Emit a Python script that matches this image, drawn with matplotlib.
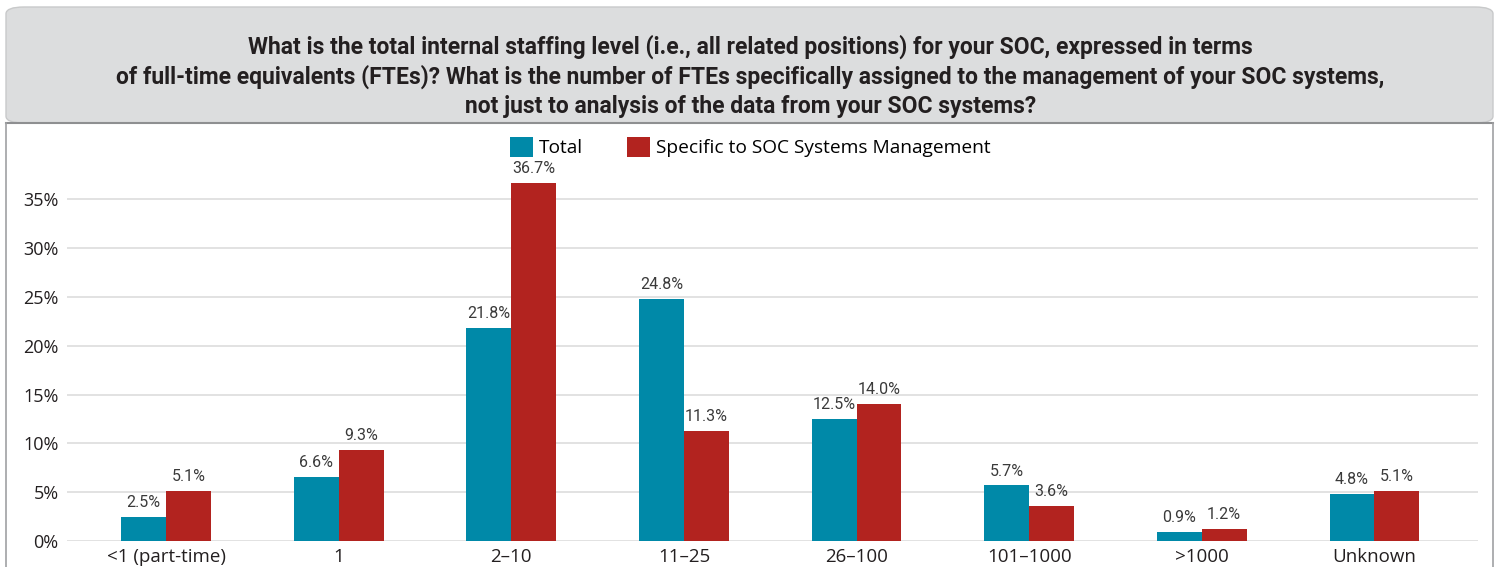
import matplotlib.pyplot as plt
import matplotlib.patches as patches
import numpy as np

categories = ["<1 (part-time)", "1", "2–10", "11–25", "26–100", "101–1000", ">1000", "Unknown"]
total = [2.5, 6.6, 21.8, 24.8, 12.5, 5.7, 0.9, 4.8]
specific = [5.1, 9.3, 36.7, 11.3, 14.0, 3.6, 1.2, 5.1]
series_names = ["Total", "Specific to SOC Systems Management"]
colors = ["#0089A8", "#B2231F"]

title = ("What is the total internal staffing level (i.e., all related positions) for your SOC, expressed in terms\n"
         "of full-time equivalents (FTEs)? What is the number of FTEs specifically assigned to the management of your SOC systems,\n"
         "not just to analysis of the data from your SOC systems?")

W, H = 1501, 567
fig = plt.figure(figsize=(W / 100, H / 100), dpi=100)

# header box and panel frame
hdr = patches.FancyBboxPatch((6 / W, (H - 123) / H), 1487 / W, 116 / H,
                             boxstyle="round,pad=0,rounding_size=0.012",
                             transform=fig.transFigure, facecolor="#DCDDDE",
                             edgecolor="#C8C9CA", linewidth=1.0, zorder=0)
fig.patches.append(hdr)
fig.add_artist(plt.Line2D([6 / W, 1493 / W], [(H - 123) / H] * 2, color="#8E8F91", lw=1.5, transform=fig.transFigure))
fig.add_artist(plt.Line2D([6 / W, 6 / W], [0, (H - 123) / H], color="#A0A1A3", lw=1.2, transform=fig.transFigure))
fig.add_artist(plt.Line2D([1493 / W, 1493 / W], [0, (H - 123) / H], color="#A0A1A3", lw=1.2, transform=fig.transFigure))

fig.text(0.5, (H - 76) / H, title, ha="center", va="center", fontsize=16.5, fontweight="bold",
         family="Roboto", color="#231F20", linespacing=1.32)

ax = fig.add_axes([67 / W, 26 / H, (1478 - 67) / W, (541 - 170) / H])
x = np.arange(len(categories))
bw = 0.26
bars1 = ax.bar(x - bw / 2, total, bw, color=colors[0], label=series_names[0], zorder=3)
bars2 = ax.bar(x + bw / 2, specific, bw, color=colors[1], label=series_names[1], zorder=3)

for bars, vals in ((bars1, total), (bars2, specific)):
    for b, v in zip(bars, vals):
        ax.text(b.get_x() + b.get_width() / 2, v + 0.7, f"{v:.1f}%", ha="center", va="bottom",
                fontsize=11.5, family="Roboto", color="#3A3A3A")

ax.set_xlim(-0.574, 7.6)
ax.set_ylim(0, 38)
ax.set_yticks(range(0, 36, 5))
ax.set_yticklabels([f"{t}%" for t in range(0, 36, 5)])
ax.set_xticks(x)
ax.set_xticklabels(categories)
ax.yaxis.grid(True, color="#DDDDDD", lw=1.2, zorder=0)
ax.tick_params(length=0, labelsize=13, colors="#231F20", pad=6)
ax.tick_params(axis="x", pad=5, labelsize=13.5)
for lab in ax.get_xticklabels() + ax.get_yticklabels():
    lab.set_family("Open Sans")
for s in ax.spines.values():
    s.set_visible(False)

fig.legend(loc="center", bbox_to_anchor=(750 / W, (H - 147) / H), ncol=2, frameon=False,
           handlelength=1.2, handleheight=1.2, handletextpad=0.3, columnspacing=2.3,
           prop={"family": "Open Sans", "size": 13.8})

fig.savefig("out.png", dpi=100)
